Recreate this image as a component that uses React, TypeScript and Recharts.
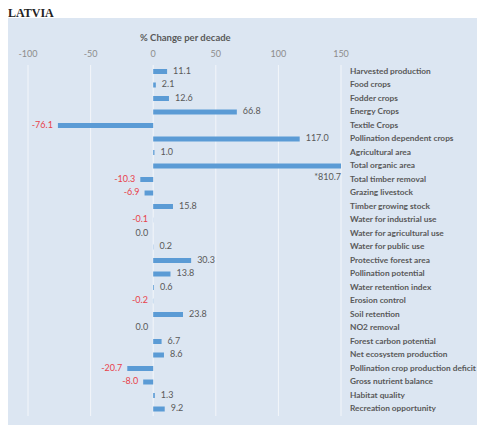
import { Bar, BarChart, CartesianGrid, LabelList, XAxis, YAxis } from "recharts";

const categories = [
  "Harvested production",
  "Food  crops",
  "Fodder crops",
  "Energy Crops",
  "Textile Crops",
  "Pollination dependent crops",
  "Agricultural area",
  "Total organic area",
  "Total timber removal",
  "Grazing livestock",
  "Timber growing stock",
  "Water for industrial use",
  "Water for agricultural use",
  "Water for public use",
  "Protective forest area",
  "Pollination potential",
  "Water retention index",
  "Erosion control",
  "Soil retention",
  "NO2 removal",
  "Forest carbon potential",
  "Net ecosystem production",
  "Pollination crop production deficit",
  "Gross nutrient balance",
  "Habitat quality",
  "Recreation opportunity",
];

const changePerDecade = [
  11.1, 2.1, 12.6, 66.8, -76.1, 117.0, 1.0, 810.7, -10.3, -6.9, 15.8, -0.1, 0.0, 0.2,
  30.3, 13.8, 0.6, -0.2, 23.8, 0.0, 6.7, 8.6, -20.7, -8.0, 1.3, 9.2,
];

const xTicks = [-100, -50, 0, 50, 100, 150];
const X_MIN = -100;
const X_MAX = 150;

const rows = categories.map((name, i) => ({
  name,
  value: changePerDecade[i],
  shown: Math.min(changePerDecade[i], X_MAX),
}));

const FONT = "Lato, 'Open Sans', sans-serif";
const GRAY = "#595959";
const RED = "#e8424b";

function ValueLabel(props: any) {
  const { x, y, width, height, value } = props;
  const left = Math.min(x, x + width);
  const right = Math.max(x, x + width);
  const cy = y + height / 2;
  const v = Number(value);
  const txt = v.toFixed(1);
  if (v > X_MAX) {
    return (
      <text x={right} y={cy + 12} textAnchor="end" dominantBaseline="middle" fontSize={9} fill={GRAY} fontFamily={FONT}>
        *{txt}
      </text>
    );
  }
  if (v > 0) {
    return (
      <text x={right + 6} y={cy} dominantBaseline="middle" fontSize={9} fill={GRAY} fontFamily={FONT}>
        {txt}
      </text>
    );
  }
  return (
    <text x={left - 5} y={cy} textAnchor="end" dominantBaseline="middle" fontSize={9} fill={v < 0 ? RED : GRAY} fontFamily={FONT}>
      {txt}
    </text>
  );
}

function CategoryTick(props: any) {
  const { x, y, payload } = props;
  return (
    <text x={x + 1} y={y} dominantBaseline="middle" fontSize={8.3} fontWeight={700} fill={GRAY} fontFamily={FONT}>
      {payload.value}
    </text>
  );
}

export default function App() {
  return (
    <div style={{ position: "relative", width: 477, height: 417 }}>
      <div
        style={{
          position: "absolute",
          left: 0,
          top: -1,
          fontFamily: "'Liberation Serif', serif",
          fontWeight: 700,
          fontSize: 12,
          lineHeight: "12px",
          color: "#222",
        }}
      >
        LATVIA
      </div>
      <div style={{ position: "absolute", left: 0, top: 10, width: 477, height: 407, background: "#dce6f2" }}>
        <div
          style={{
            position: "absolute",
            left: 132,
            top: 14,
            fontFamily: FONT,
            fontSize: 9.5,
            fontWeight: 700,
            color: GRAY,
          }}
        >
          % Change per decade
        </div>
        <BarChart
          width={477}
          height={407}
          data={rows}
          layout="vertical"
          barCategoryGap={0}
          margin={{ top: 17, right: 0, left: 20, bottom: 9 }}
        >
          <CartesianGrid horizontal={false} stroke="#f3f6fa" />
          <XAxis
            type="number"
            orientation="top"
            domain={[X_MIN, X_MAX]}
            ticks={xTicks}
            allowDataOverflow
            axisLine={false}
            tickLine={false}
            height={30}
            tick={{ fontSize: 9, fill: "#8c8c8c", fontFamily: FONT }}
          />
          <YAxis
            type="category"
            dataKey="name"
            orientation="right"
            width={144}
            axisLine={false}
            tickLine={false}
            interval={0}
            tick={<CategoryTick />}
          />
          <Bar
            dataKey="shown"
            fill="#5b9bd5"
            barSize={5}
            minPointSize={(v: number) => (v === 0 ? 0.01 : 0)}
            isAnimationActive={false}
          >
            <LabelList dataKey="value" content={<ValueLabel />} />
          </Bar>
        </BarChart>
      </div>
    </div>
  );
}
